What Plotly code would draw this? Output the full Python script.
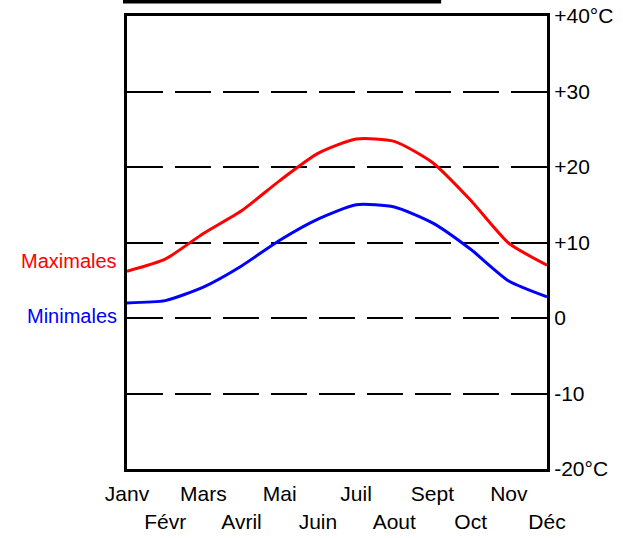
import plotly.graph_objects as go

months = ["Janv", "Févr", "Mars", "Avril", "Mai", "Juin", "Juil", "Aout", "Sept", "Oct", "Nov", "Déc"]
t_max = [6.2, 7.8, 11.2, 14.2, 18.2, 21.8, 23.7, 23.4, 20.6, 15.6, 9.9, 7.0]
t_min = [2.0, 2.3, 4.1, 6.9, 10.3, 13.1, 15.0, 14.7, 12.6, 9.1, 4.9, 2.8]
y_ticks = [-20, -10, 0, 10, 20, 30, 40]
y_tick_labels = ["-20°C", "-10", "0", "+10", "+20", "+30", "+40°C"]

x = list(range(len(months)))
tick_text = [m if i % 2 == 0 else "<br>" + m for i, m in enumerate(months)]

FONT = "Liberation Sans, Arial, sans-serif"

fig = go.Figure()
fig.add_trace(go.Scatter(x=x, y=t_max, mode="lines", line=dict(color="#ff0000", width=3, shape="spline", smoothing=0.6),
                         hoverinfo="skip", showlegend=False))
fig.add_trace(go.Scatter(x=x, y=t_min, mode="lines", line=dict(color="#0000ff", width=3, shape="spline", smoothing=0.6),
                         hoverinfo="skip", showlegend=False))

fig.update_layout(
    width=623, height=538,
    margin=dict(l=127, r=76, t=16, b=69),
    paper_bgcolor="white", plot_bgcolor="white",
    font=dict(family=FONT, color="black", size=20),
    xaxis=dict(range=[0, 11], tickvals=x, ticktext=tick_text, showgrid=False, zeroline=False,
               showline=True, linecolor="black", linewidth=3, mirror=True, ticks="",
               tickangle=0, automargin=False, ticklabelstandoff=4,
               tickfont=dict(size=21), fixedrange=True),
    yaxis=dict(range=[-20, 40], tickvals=y_ticks, ticktext=y_tick_labels, side="right",
               showgrid=True, gridcolor="black", gridwidth=2, griddash="36px,12px", zeroline=False,
               showline=True, linecolor="black", linewidth=3, mirror=True, ticks="",
               automargin=False, tickfont=dict(size=21), fixedrange=True),
    annotations=[
        dict(text="Maximales", x=0, xref="paper", y=7.5, yref="y", xanchor="right", yanchor="middle",
             xshift=-8, showarrow=False, font=dict(color="#ff0000", size=20, family=FONT)),
        dict(text="Minimales", x=0, xref="paper", y=0.2, yref="y", xanchor="right", yanchor="middle",
             xshift=-8, showarrow=False, font=dict(color="#0000ff", size=20, family=FONT)),
    ],
    shapes=[
        dict(type="line", xref="paper", yref="paper", x0=-0.0095, x1=0.748, y0=1.032, y1=1.032,
             line=dict(color="black", width=4)),
    ],
)

fig.write_html("out.html", config={"displayModeBar": False, "staticPlot": True},
               post_script="document.body.style.margin='0';")
